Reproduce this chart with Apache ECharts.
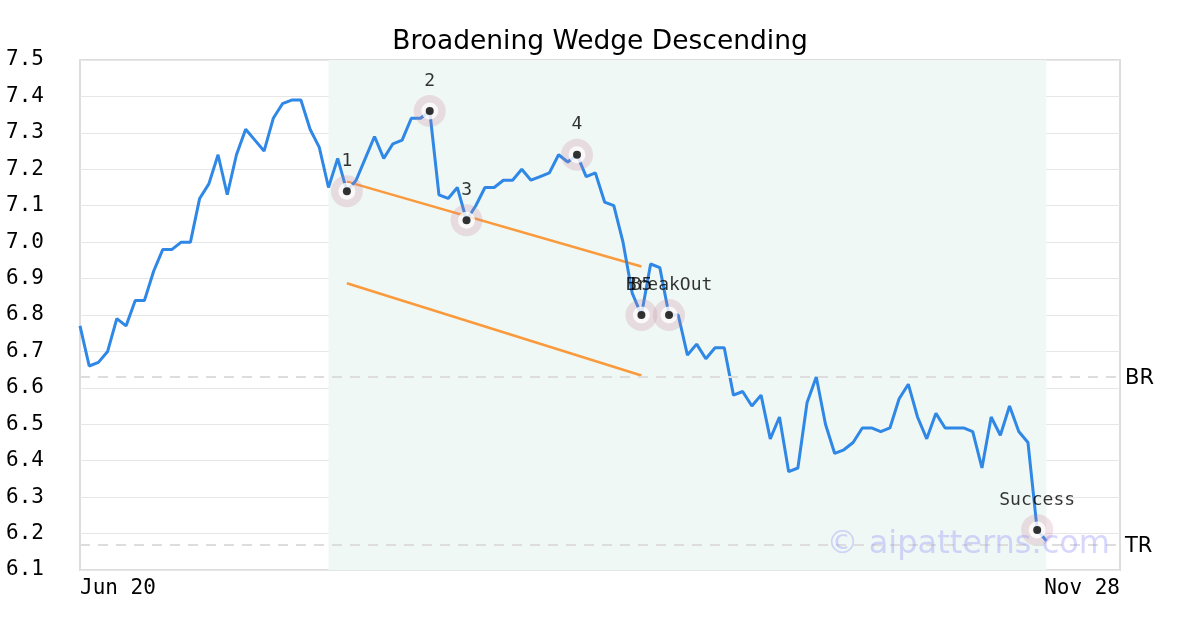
<!DOCTYPE html>
<html>
<head>
<meta charset="utf-8">
<script src="https://cdn.jsdelivr.net/npm/echarts@6/dist/echarts.min.js"></script>
<style>html,body{margin:0;padding:0;background:#fff}#c{width:1200px;height:630px}</style>
</head>
<body>
<div id="c"></div>
<script>
// ---- data ----
var startDate = '2024-06-20';
var endDate = '2024-11-28';
var holidays = ['2024-07-04', '2024-09-02'];
var prices = [
  6.77, 6.66, 6.67, 6.70, 6.79, 6.77, 6.84, 6.84, 6.92, 6.98,
  6.98, 7.00, 7.00, 7.12, 7.16, 7.24, 7.13, 7.24, 7.31, 7.28,
  7.25, 7.34, 7.38, 7.39, 7.39, 7.31, 7.26, 7.15, 7.23, 7.14,
  7.17, 7.23, 7.29, 7.23, 7.27, 7.28, 7.34, 7.34, 7.36, 7.13,
  7.12, 7.15, 7.06, 7.10, 7.15, 7.15, 7.17, 7.17, 7.20, 7.17,
  7.18, 7.19, 7.24, 7.22, 7.24, 7.18, 7.19, 7.11, 7.10, 7.00,
  6.86, 6.80, 6.94, 6.93, 6.80, 6.80, 6.69, 6.72, 6.68, 6.71,
  6.71, 6.58, 6.59, 6.55, 6.58, 6.46, 6.52, 6.37, 6.38, 6.56,
  6.63, 6.50, 6.42, 6.43, 6.45, 6.49, 6.49, 6.48, 6.49, 6.57,
  6.61, 6.52, 6.46, 6.53, 6.49, 6.49, 6.49, 6.48, 6.38, 6.52,
  6.47, 6.55, 6.48, 6.45, 6.21, 6.18
];
var pivotNames = ['1', '2', '3', '4', 'B5', 'BreakOut', 'Success'];
var pivotIndex = [29, 38, 42, 54, 61, 64, 104];
var upperLine = [[29, 7.166], [61, 6.933]];
var lowerLine = [[29, 6.887], [61, 6.634]];
var brLevel = 6.635;
var trLevel = 6.169;
var patternStart = 27;
var patternEnd = 105;
var yTicks = [6.1, 7.5, 0.1]; // min, max, interval

// ---- build categories (business days) ----
var categories = [];
(function () {
  var d = new Date(startDate + 'T00:00:00Z');
  var e = new Date(endDate + 'T00:00:00Z');
  var months = ['Jan','Feb','Mar','Apr','May','Jun','Jul','Aug','Sep','Oct','Nov','Dec'];
  while (d <= e) {
    var wd = d.getUTCDay();
    var iso = d.toISOString().slice(0, 10);
    if (wd !== 0 && wd !== 6 && holidays.indexOf(iso) < 0) {
      categories.push(months[d.getUTCMonth()] + ' ' + String(d.getUTCDate()).padStart(2, '0'));
    }
    d.setUTCDate(d.getUTCDate() + 1);
  }
})();
var lastIdx = categories.length - 1;

var pivotData = pivotIndex.map(function (i, k) {
  return { name: pivotNames[k], value: [i, prices[i]] };
});

var mono = 'DejaVu Sans Mono';
var chart = echarts.init(document.getElementById('c'), null, { renderer: 'canvas' });
chart.setOption({
  animation: false,
  backgroundColor: '#ffffff',
  title: {
    text: 'Broadening Wedge Descending',
    left: 'center',
    top: 24,
    textStyle: { fontFamily: 'DejaVu Sans', fontSize: 26.5, fontWeight: 'normal', color: '#000' }
  },
  grid: {
    left: 80, right: 80, top: 60, bottom: 60,
    show: true, borderColor: '#dddddd', borderWidth: 2, backgroundColor: 'transparent'
  },
  xAxis: {
    type: 'category',
    data: categories,
    boundaryGap: false,
    axisLine: { show: false },
    axisTick: { show: false },
    splitLine: { show: false },
    axisLabel: {
      interval: function (i) { return i === 0 || i === lastIdx; },
      showMinLabel: true,
      showMaxLabel: true,
      alignMinLabel: 'left',
      alignMaxLabel: 'right',
      margin: 8,
      fontFamily: mono,
      fontSize: 21,
      color: '#000'
    }
  },
  yAxis: {
    type: 'value',
    min: yTicks[0], max: yTicks[1], interval: yTicks[2],
    axisLine: { show: false },
    axisTick: { show: false },
    splitLine: { show: true, lineStyle: { color: '#e6e6e6', width: 1 } },
    axisLabel: {
      formatter: function (v) { return v.toFixed(1); },
      margin: 36,
      fontFamily: mono,
      fontSize: 21,
      color: '#000'
    }
  },
  series: [
    {
      type: 'line',
      data: prices,
      showSymbol: false,
      symbol: 'none',
      lineStyle: { color: '#2f87e6', width: 3 },
      z: 3,
      markArea: {
        silent: true,
        itemStyle: { color: '#eff8f4' },
        data: [[{ xAxis: patternStart }, { xAxis: patternEnd }]]
      },
      markLine: {
        silent: true,
        symbol: 'none',
        lineStyle: { color: '#dddddd', type: [10, 8], width: 2 },
        label: {
          position: 'end',
          distance: 5,
          offset: [0, 2],
          fontFamily: 'DejaVu Sans',
          fontSize: 21,
          color: '#000',
          formatter: '{b}'
        },
        data: [
          { name: 'BR', yAxis: brLevel },
          { name: 'TR', yAxis: trLevel }
        ]
      }
    },
    {
      type: 'line',
      data: upperLine,
      symbol: 'none',
      lineStyle: { color: '#fa9a3c', width: 2.5 },
      z: 2
    },
    {
      type: 'line',
      data: lowerLine,
      symbol: 'none',
      lineStyle: { color: '#fa9a3c', width: 2.5 },
      z: 2
    },
    {
      type: 'scatter',
      data: pivotData,
      symbolSize: 32,
      itemStyle: { color: 'rgba(200,125,150,0.28)' },
      z: 4
    },
    {
      type: 'scatter',
      data: pivotData,
      symbolSize: 17,
      itemStyle: { color: '#ffffff' },
      z: 5
    },
    {
      type: 'scatter',
      data: pivotData,
      symbolSize: 8,
      itemStyle: { color: '#000000' },
      label: {
        show: true,
        position: 'top',
        distance: 17,
        formatter: '{b}',
        fontFamily: mono,
        fontSize: 18,
        color: '#000'
      },
      z: 6
    }
  ],
  graphic: [
    {
      type: 'text',
      right: 90,
      top: 529,
      z: 100,
      style: {
        text: '© aipatterns.com',
        font: '32px "DejaVu Sans"',
        fill: 'rgba(145,145,250,0.36)'
      }
    }
  ]
});
</script>
</body>
</html>
